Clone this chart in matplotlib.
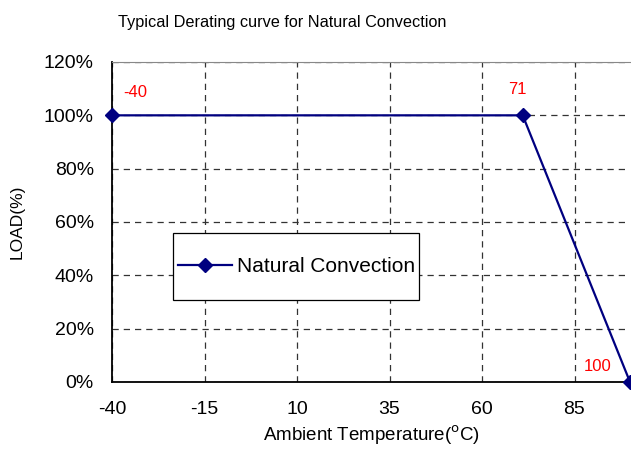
import matplotlib
matplotlib.use("Agg")
from matplotlib import pyplot as plt
from matplotlib.ticker import FuncFormatter
from matplotlib.patches import Rectangle

temps = [-40, 71, 100]
loads = [100, 100, 0]
xticks = [-40, -15, 10, 35, 60, 85]
yticks = [0, 20, 40, 60, 80, 100, 120]

plt.rcParams['font.family'] = ['Liberation Sans', 'DejaVu Sans']
plt.rcParams['axes.unicode_minus'] = False

fig = plt.figure(figsize=(6.31, 4.51), dpi=100)
ax = fig.add_axes([112/631, 1-382/451, 518/631, 320/451])

ax.plot(temps, loads, color='#000080', lw=1.6, marker='D', ms=7,
        label='Natural Convection', clip_on=False, zorder=5)

ax.set_xlim(-40, 100)
ax.set_ylim(0, 120)
ax.set_xticks(xticks)
ax.set_yticks(yticks)
ax.yaxis.set_major_formatter(FuncFormatter(lambda v, p: '%d%%' % v))
ax.tick_params(length=0, labelsize=14)
ax.tick_params(axis='x', pad=14)
ax.tick_params(axis='y', pad=13)
ax.grid(True, ls=(0, (5, 4)), color='#333333', lw=0.9)

for s in ['left', 'bottom']:
    ax.spines[s].set_linewidth(1.3)
ax.spines['top'].set_color('#888888')
ax.spines['right'].set_visible(False)

ax.text(-37, 107, '-40', color='red', fontsize=12)
ax.text(67, 108, '71', color='red', fontsize=12)
ax.text(87.5, 4, '100', color='red', fontsize=12)

fig.text(282/631, 1-22/451, 'Typical Derating curve for Natural Convection',
         fontsize=11.7, ha='center', va='center')
ax.set_xlabel('Ambient Temperature($^{\\rm o}$C)', fontsize=13.5, labelpad=4)
ax.set_ylabel('LOAD(%)', fontsize=12.5, labelpad=14)

# legend box drawn by hand, entries placed inside without frame
box = Rectangle((0.118, 0.256), 0.475, 0.21, transform=ax.transAxes,
                facecolor='white', edgecolor='black', lw=0.9, zorder=6)
ax.add_patch(box)
leg = ax.legend(loc='center left', bbox_to_anchor=(0.118, 0.361),
                fontsize=15, frameon=False, borderaxespad=0,
                handlelength=2.6, handletextpad=0.2, borderpad=0.25)
leg.set_zorder(7)

fig.savefig('out.png', dpi=100)
